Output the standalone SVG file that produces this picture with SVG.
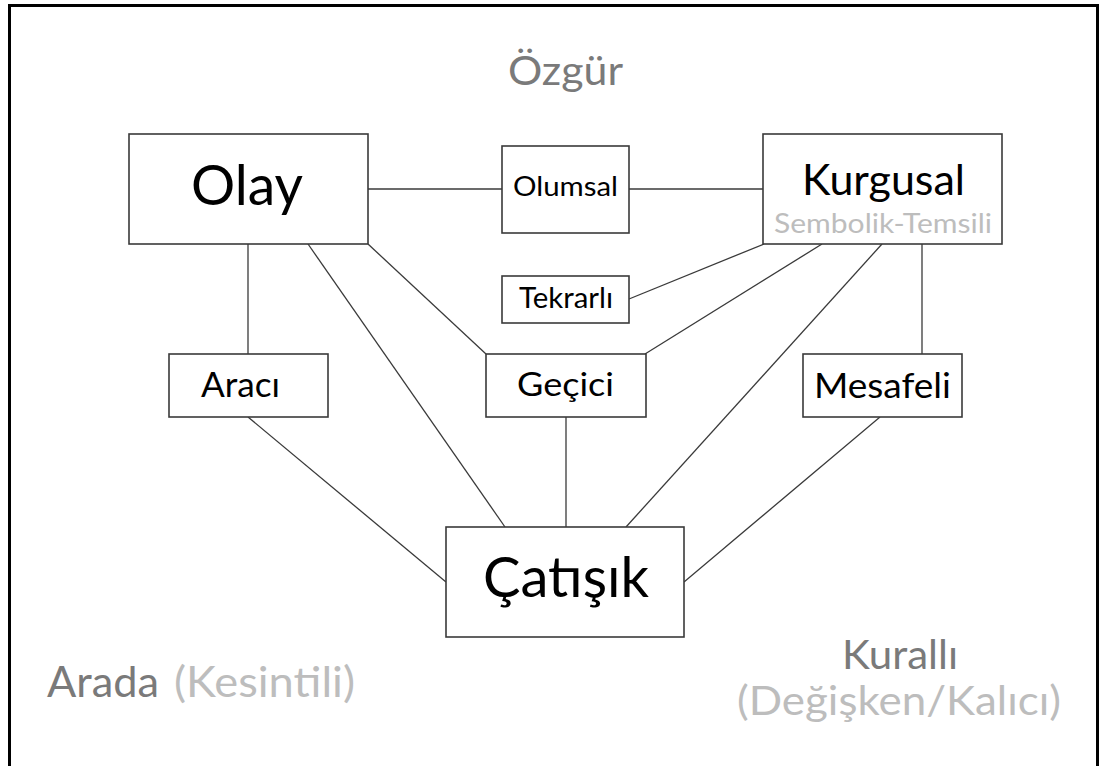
<svg xmlns="http://www.w3.org/2000/svg" width="1101" height="766" viewBox="0 0 1101 766">
<style>
.box{fill:#fff;stroke:#3a3a3a;stroke-width:1.6}
.c{stroke:#3a3a3a;stroke-width:1.3;fill:none}
text{font-family:Lato,"Open Sans","Liberation Sans",sans-serif}
.k{fill:#000}
.g1{fill:#7a7a7a}
.g2{fill:#bdbdbd}
</style>
<rect width="1101" height="766" fill="#fff"/>
<path d="M9.5,770 V5.5 H1097.5 V770" fill="none" stroke="#000" stroke-width="3"/>
<g id="connectors">
<line class="c" x1="368" y1="189" x2="502" y2="189"/>
<line class="c" x1="629" y1="189" x2="763" y2="189"/>
<line class="c" x1="248" y1="244" x2="248" y2="354"/>
<line class="c" x1="308" y1="244" x2="505" y2="527"/>
<line class="c" x1="368" y1="244" x2="486" y2="354"/>
<line class="c" x1="764" y1="244" x2="629" y2="299"/>
<line class="c" x1="822" y1="244" x2="645" y2="354"/>
<line class="c" x1="882" y1="244" x2="626" y2="527"/>
<line class="c" x1="922" y1="244" x2="922" y2="354"/>
<line class="c" x1="248" y1="417" x2="446" y2="582"/>
<line class="c" x1="566" y1="417" x2="566" y2="527"/>
<line class="c" x1="880" y1="417" x2="684" y2="582"/>
</g>
<g id="olay"><rect class="box" x="129" y="134" width="239" height="110"/><text class="k" x="247" y="205" font-size="56" text-anchor="middle" textLength="112" lengthAdjust="spacingAndGlyphs">Olay</text></g>
<g id="olumsal"><rect class="box" x="502" y="146" width="127" height="87"/><text class="k" x="565.5" y="196" font-size="27" text-anchor="middle" textLength="105" lengthAdjust="spacingAndGlyphs">Olumsal</text></g>
<g id="kurgusal"><rect class="box" x="763" y="134" width="239" height="110"/><text class="k" x="883.5" y="195" font-size="42" text-anchor="middle" textLength="163" lengthAdjust="spacingAndGlyphs">Kurgusal</text><text class="g2" x="883" y="233" font-size="26" text-anchor="middle" textLength="218" lengthAdjust="spacingAndGlyphs">Sembolik-Temsili</text></g>
<g id="tekrarli"><rect class="box" x="502" y="276" width="127" height="47"/><text class="k" x="566" y="308" font-size="28" text-anchor="middle" textLength="94" lengthAdjust="spacingAndGlyphs">Tekrarlı</text></g>
<g id="araci"><rect class="box" x="169" y="354" width="159" height="63"/><text class="k" x="240.5" y="397" font-size="34" text-anchor="middle" textLength="79" lengthAdjust="spacingAndGlyphs">Aracı</text></g>
<g id="gecici"><rect class="box" x="486" y="354" width="160" height="63"/><text class="k" x="565.5" y="396" font-size="33" text-anchor="middle" textLength="97" lengthAdjust="spacingAndGlyphs">Geçici</text></g>
<g id="mesafeli"><rect class="box" x="803" y="354" width="159" height="63"/><text class="k" x="882.5" y="398" font-size="34" text-anchor="middle" textLength="137" lengthAdjust="spacingAndGlyphs">Mesafeli</text></g>
<g id="catisik"><rect class="box" x="446" y="527" width="238" height="110"/><text class="k" x="566" y="597" font-size="57" text-anchor="middle" textLength="166" lengthAdjust="spacingAndGlyphs">Çatışık</text></g>
<g id="ozgur"><text class="g1" x="565.5" y="85" font-size="41" text-anchor="middle" textLength="115" lengthAdjust="spacingAndGlyphs">Özgür</text></g>
<g id="arada"><text class="g1" x="47" y="697" font-size="42" textLength="112" lengthAdjust="spacingAndGlyphs">Arada</text><text class="g2" x="174" y="697" font-size="42" textLength="181" lengthAdjust="spacingAndGlyphs">(Kesintili)</text></g>
<g id="kuralli"><text class="g1" x="900" y="669" font-size="40" text-anchor="middle" textLength="116" lengthAdjust="spacingAndGlyphs">Kurallı</text><text class="g2" x="899" y="715" font-size="40" text-anchor="middle" textLength="324" lengthAdjust="spacingAndGlyphs">(Değişken/Kalıcı)</text></g>
</svg>
